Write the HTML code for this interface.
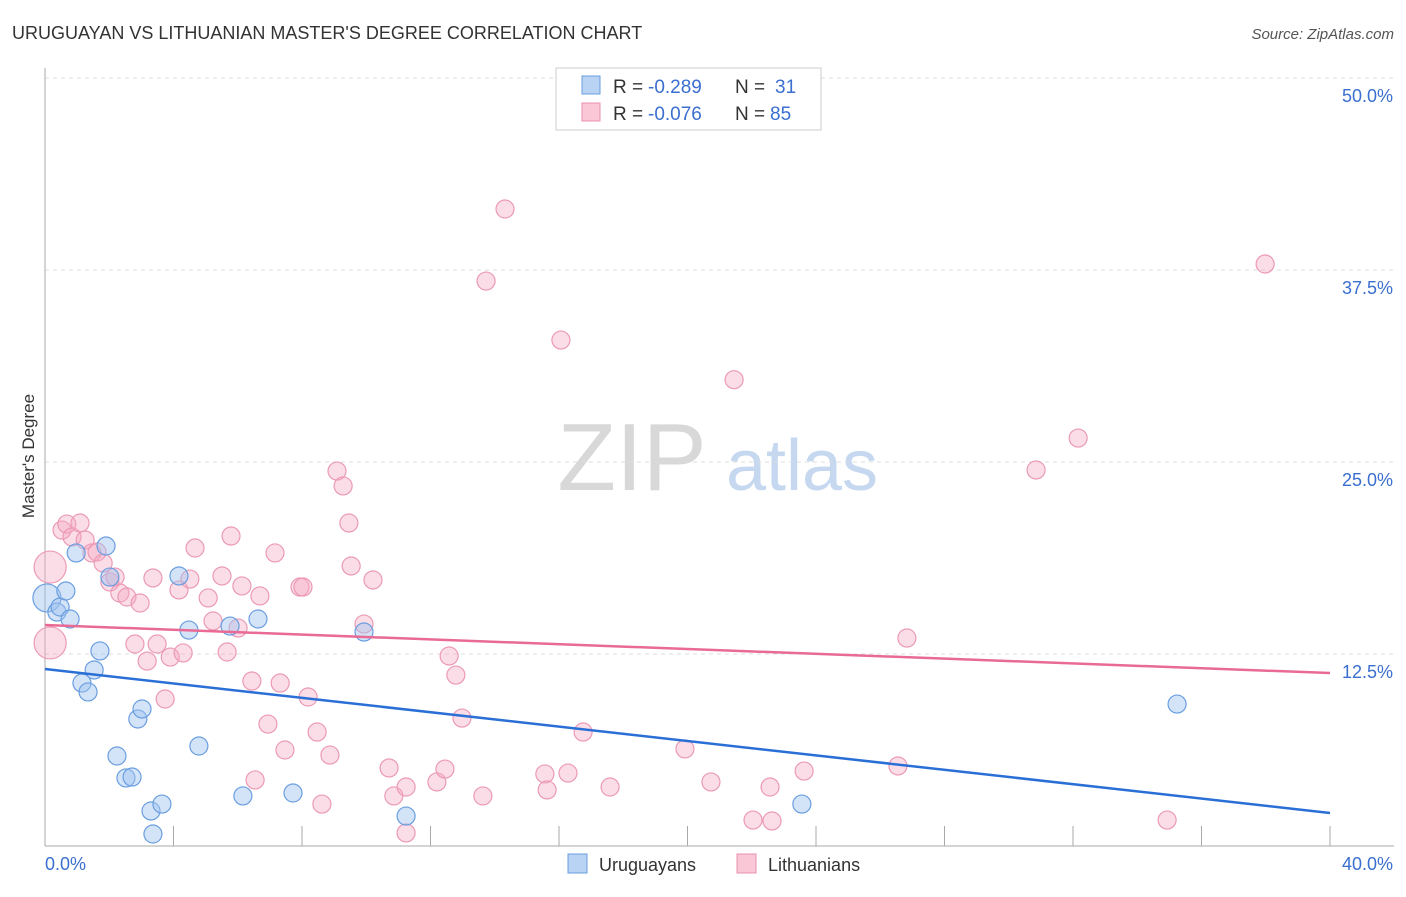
<!DOCTYPE html>
<html><head><meta charset="utf-8"><style>
body{margin:0;background:#fff;font-family:"Liberation Sans",sans-serif}
svg text{font-family:"Liberation Sans",sans-serif}
</style></head><body>
<svg id="c" width="1406" height="892">
<text x="12" y="39" font-size="18" fill="#333">URUGUAYAN VS LITHUANIAN MASTER'S DEGREE CORRELATION CHART</text>
<text x="1394" y="39" font-size="15" fill="#555" font-style="italic" text-anchor="end">Source: ZipAtlas.com</text>
<text x="34" y="456" font-size="17" fill="#333" transform="rotate(-90 34 456)" text-anchor="middle">Master's Degree</text>
<text x="632" y="490" font-size="96" fill="#d8d8d8" font-family="Liberation Serif" text-anchor="middle">ZIP</text>
<text x="802" y="490" font-size="72" fill="#c5d8f0" text-anchor="middle">atlas</text>
<g id="grid"></g><g id="pts"></g><g id="lines"></g>
<g>
<rect x="556" y="68" width="265" height="62" fill="#fff" stroke="#ccc"/>
<rect x="582" y="76" width="18" height="18" fill="#b9d3f5" stroke="#6a9ee0"/>
<rect x="582" y="103" width="18" height="18" fill="#f9c7d6" stroke="#e890ae"/>
<text x="613" y="93" font-size="19" fill="#333">R =</text>
<text x="648" y="93" font-size="19" fill="#3a6fd0">-0.289</text>
<text x="735" y="93" font-size="19" fill="#333">N =</text>
<text x="775" y="93" font-size="19" fill="#3a6fd0">31</text>
<text x="613" y="120" font-size="19" fill="#333">R =</text>
<text x="648" y="120" font-size="19" fill="#3a6fd0">-0.076</text>
<text x="735" y="120" font-size="19" fill="#333">N =</text>
<text x="770" y="120" font-size="19" fill="#3a6fd0">85</text>
</g>
<g>
<rect x="568" y="854" width="19" height="19" fill="#b9d3f5" stroke="#6a9ee0"/>
<text x="599" y="871" font-size="18" fill="#333">Uruguayans</text>
<rect x="737" y="854" width="19" height="19" fill="#f9c7d6" stroke="#e890ae"/>
<text x="768" y="871" font-size="18" fill="#333">Lithuanians</text>
</g>
</svg>
<script>
const yTicks=[12.5,25,37.5,50];
const yTickLabels=["12.5%","25.0%","37.5%","50.0%"];
const xTickLabels=["0.0%","40.0%"];
const blueX=[0.06,0.37,0.47,0.65,0.78,0.97,1.15,1.34,1.53,1.71,1.9,2.02,2.89,3.02,2.24,2.52,2.71,3.3,3.64,3.36,4.17,4.48,4.79,5.76,6.16,6.63,7.72,9.93,11.24,23.56,35.24];
const blueY=[16.15,15.23,15.56,16.6,14.78,19.08,10.61,10.03,11.46,12.7,19.53,17.51,8.27,8.92,5.86,4.43,4.49,2.28,2.73,0.78,17.58,14.06,6.51,14.32,3.26,14.78,3.45,13.93,1.95,2.73,9.24];
const pinkX=[0.16,0.16,0.53,0.68,0.84,1.09,1.25,1.46,1.62,1.81,2.02,2.18,2.33,2.55,2.96,2.8,3.18,3.36,3.49,3.74,3.9,4.17,4.3,4.51,4.67,5.08,5.23,5.51,5.67,5.79,6.01,6.13,6.44,6.54,6.69,6.94,7.16,7.32,7.47,7.94,8.03,8.19,8.47,8.62,8.87,9.09,9.28,9.46,9.53,9.93,10.21,10.71,10.86,11.24,11.24,12.2,12.45,12.58,12.79,12.98,13.63,13.73,14.32,15.56,15.63,16.06,16.28,16.75,17.59,19.92,20.73,21.45,22.04,22.57,22.63,23.63,26.55,26.83,30.85,32.16,34.93,37.98];
const pinkY=[18.16,13.22,20.57,20.96,20.12,21.03,19.92,19.08,19.14,18.42,17.19,17.51,16.47,16.21,15.82,13.15,12.04,17.45,13.15,9.57,12.3,16.67,12.57,17.38,19.4,16.15,14.65,17.58,12.63,20.18,14.19,16.93,10.74,4.3,16.28,7.94,19.08,10.61,6.25,16.86,16.86,9.7,7.42,2.73,5.92,24.41,23.44,21.03,18.23,14.45,17.32,5.08,3.26,3.84,0.85,4.17,5.01,12.37,11.13,8.33,3.26,36.78,41.47,4.69,3.65,32.94,4.75,7.42,3.84,6.32,4.17,30.36,1.69,3.84,1.63,4.88,5.21,13.54,24.48,26.56,1.69,37.89];
const pinkBig=[0,1];
const blueTrend=[11.52,2.15];
const pinkTrend=[14.39,11.26];
const xMax=40,yMax=50;
const X=v=>45+v/xMax*1285, Y=v=>846-v/yMax*768;
const NS="http://www.w3.org/2000/svg";
function mk(t,a,p){const e=document.createElementNS(NS,t);for(const k in a)e.setAttribute(k,a[k]);p.appendChild(e);return e;}
const g=document.getElementById('grid');
yTicks.forEach((t,i)=>{
 const l=mk('line',{x1:45,x2:1394,y1:Y(t),y2:Y(t),stroke:'#ddd','stroke-dasharray':'4,4'},g);
 
 
 const tx=mk('text',{x:1393,y:Y(t)+24,'font-size':18,fill:'#3a6fd0','text-anchor':'end'},g);tx.textContent=yTickLabels[i];
 
 
});
const ax=mk('line',{x1:45,x2:45,y1:68,y2:846,stroke:'#aaa'},g);


const bx=mk('line',{x1:45,x2:1394,y1:846,y2:846,stroke:'#aaa'},g);


for(let i=1;i<=10;i++){const t=mk('line',{x1:45+i*128.5,x2:45+i*128.5,y1:826,y2:846,stroke:'#aaa'},g);
 
 }
[[xTickLabels[0],45,'start'],[xTickLabels[1],1393,'end']].forEach(([s,x,a])=>{const t=mk('text',{x:x,y:870,'font-size':18,fill:'#3a6fd0','text-anchor':a},g);t.textContent=s;
 
 });
const p=document.getElementById('pts');
pinkX.forEach((x,i)=>{const c=mk('circle',{cx:X(x),cy:Y(pinkY[i]),r:pinkBig.includes(i)?16:9,fill:'rgba(244,170,196,0.4)',stroke:'#eb9ab5','stroke-width':1.2},p);
 
 });
blueX.forEach((x,i)=>{const c=mk('circle',{cx:X(x),cy:Y(blueY[i]),r:i==0?14:9,fill:'rgba(160,196,240,0.45)',stroke:'#6a9ee0','stroke-width':1.2},p);
 
 });
const L=document.getElementById('lines');
const pl=mk('line',{x1:X(0),x2:X(40),y1:Y(pinkTrend[0]),y2:Y(pinkTrend[1]),stroke:'#e86a95','stroke-width':2.5},L);


const bl=mk('line',{x1:X(0),x2:X(40),y1:Y(blueTrend[0]),y2:Y(blueTrend[1]),stroke:'#2a6fd6','stroke-width':2.5},L);


</script>
</body></html>
